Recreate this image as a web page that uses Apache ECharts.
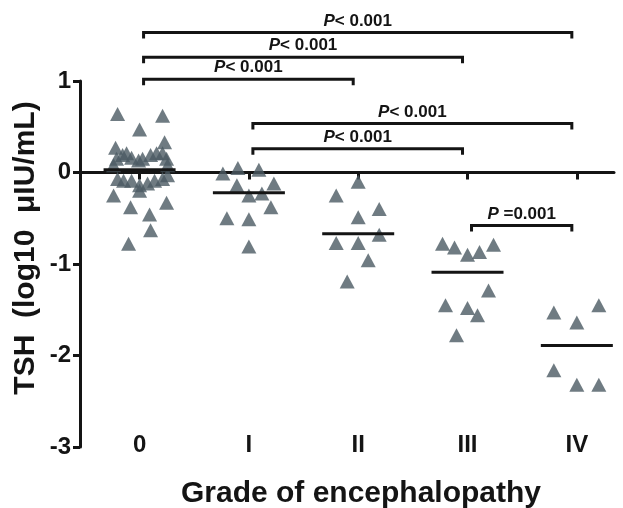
<!DOCTYPE html>
<html><head><meta charset="utf-8">
<script src="https://cdn.jsdelivr.net/npm/echarts@6/dist/echarts.min.js"></script>
<style>html,body{margin:0;padding:0;background:#fff}#c{width:623px;height:508px}</style>
</head><body><div id="c"></div>
<script>
// ---- data ----
const categories = ['0', 'I', 'II', 'III', 'IV'];
const yTicks = [-3, -2, -1, 0, 1];
const grade0 = [0.64, 0.62, 0.47, 0.27, 0.33, 0.19, 0.21, 0.16, 0.13, 0.15, 0.19, 0.21, 0.21, 0.15, 0.15, 0.08, 0.08,
  -0.07, -0.09, -0.09, -0.14, -0.12, -0.09, -0.07, -0.03, -0.20, -0.25, -0.38, -0.33, -0.46, -0.63, -0.78];
const gradeI = [-0.01, 0.05, 0.03, -0.14, -0.12, -0.25, -0.23, -0.38, -0.50, -0.51, -0.81];
const gradeII = [-0.10, -0.25, -0.40, -0.49, -0.68, -0.77, -0.77, -0.96, -1.19];
const gradeIII = [-0.78, -0.82, -0.90, -0.87, -0.79, -1.29, -1.45, -1.48, -1.56, -1.78];
const gradeIV = [-1.53, -1.64, -1.45, -2.16, -2.32, -2.32];
const medians = [0.03, -0.22, -0.67, -1.09, -1.89];
// comparisons: [fromGroup, toGroup, bracketLevel]
const comparisons = [[0, 4, 1.53], [0, 3, 1.26], [0, 2, 1.02], [1, 4, 0.535], [1, 3, 0.26], [3, 4, -0.58]];
const pLabels = ['P< 0.001', 'P< 0.001', 'P< 0.001', 'P< 0.001', 'P< 0.001', 'P =0.001'];

// ---- layout (horizontal jitter of markers, in px) ----
const jitter = [
  [-22, 23, 0, -24, 25, -17, -13, -8, -1, 3, 11, 17, 23, -23, 27, -26, 28, -22, -16, -8, 0, 8, 15, 23, 28, 0, -26, -9, 27, 10, 11, -11],
  [-26, -11, 10, -12, 25, 0, 13, 22, -22, 0, 0],
  [0, -22, 21, 0, 21, -22, 0, 10, -11],
  [-25, -13, 0, 12, 26, 21, -22, 0, 10, -11],
  [-23, 0, 22, -23, 0, 22]
];
const groups = [grade0, gradeI, gradeII, gradeIII, gradeIV];

const FONT = 'Liberation Sans, Arial, sans-serif';
const INK = '#141414';
const MARK = '#4b5a63';

const chart = echarts.init(document.getElementById('c'));

const scatterSeries = groups.map((vals, g) => ({
  type: 'scatter',
  xAxisIndex: 0,
  symbol: 'triangle',
  symbolSize: [15, 14],
  itemStyle: { color: MARK },
  z: 3,
  data: vals.map((v, i) => ({ value: [g, v], symbolOffset: [jitter[g][i], 0] }))
}));

const medianSeries = {
  type: 'custom',
  xAxisIndex: 0,
  z: 4,
  clip: false,
  data: medians.map((m, g) => [g, m]),
  renderItem: (params, api) => {
    const a = api.coord([api.value(0), api.value(1)]);
    return { type: 'line', shape: { x1: a[0] - 36, y1: a[1], x2: a[0] + 36, y2: a[1] },
      style: { stroke: INK, lineWidth: 3 } };
  }
};

const bracketSeries = {
  type: 'custom',
  xAxisIndex: 0,
  z: 5,
  clip: false,
  data: comparisons.map((c, i) => [c[0], c[1], c[2], i]),
  renderItem: (params, api) => {
    const p1 = api.coord([api.value(0), api.value(2)]);
    const p2 = api.coord([api.value(1), api.value(2)]);
    const x1 = p1[0] + 4, x2 = p2[0] - 5, y = p1[1];
    const lab = pLabels[api.value(3)];
    return {
      type: 'group',
      children: [
        { type: 'polyline', shape: { points: [[x1, y + 6], [x1, y], [x2, y], [x2, y + 6]] },
          style: { stroke: INK, lineWidth: 3, fill: null } },
        { type: 'text', style: {
            x: (x1 + x2) / 2, y: y - 3, align: 'center', verticalAlign: 'bottom',
            text: '{i|' + lab.charAt(0) + '}{n|' + lab.slice(1) + '}',
            rich: {
              i: { fontStyle: 'italic', fontWeight: 'bold', fontSize: 17, fontFamily: FONT, fill: INK },
              n: { fontWeight: 'bold', fontSize: 17, fontFamily: FONT, fill: INK }
            }
          } }
      ]
    };
  }
};

chart.setOption({
  animation: false,
  backgroundColor: '#fff',
  grid: { left: 80, right: 9, top: 81, bottom: 61 },
  xAxis: [
    { type: 'value', min: -0.545, max: 4.34, position: 'bottom',
      axisLine: { onZero: true, lineStyle: { color: INK, width: 3 } },
      axisTick: { show: true, customValues: [0, 1, 2, 3, 4], length: 7, lineStyle: { color: INK, width: 3 } },
      axisLabel: { show: false }, splitLine: { show: false } },
    { type: 'value', min: -0.545, max: 4.34, position: 'bottom',
      axisLine: { show: false, onZero: false }, axisTick: { show: false }, splitLine: { show: false },
      axisLabel: { show: true, customValues: [0, 1, 2, 3, 4], margin: -2, verticalAlign: 'middle',
        formatter: v => categories[Math.round(v)] || '',
        fontSize: 24, fontWeight: 'bold', fontFamily: FONT, color: INK } }
  ],
  yAxis: {
    type: 'value', min: yTicks[0], max: yTicks[yTicks.length - 1], interval: 1,
    axisLine: { show: true, onZero: false, lineStyle: { color: INK, width: 3 } },
    axisTick: { show: true, length: 7, lineStyle: { color: INK, width: 3 } },
    axisLabel: { margin: 9, fontSize: 24, fontWeight: 'bold', fontFamily: FONT, color: INK },
    splitLine: { show: false }
  },
  graphic: [
    { type: 'text', x: 26, y: 248, rotation: Math.PI / 2,
      style: { text: 'TSH  (log10  μIU/mL)', align: 'center', verticalAlign: 'middle',
        font: 'bold 30px ' + FONT, fill: INK } },
    { type: 'text', x: 361, y: 494,
      style: { text: 'Grade of encephalopathy', align: 'center', verticalAlign: 'middle',
        font: 'bold 30px ' + FONT, fill: INK } }
  ],
  series: [...scatterSeries, medianSeries, bracketSeries]
});
</script>
</body></html>
